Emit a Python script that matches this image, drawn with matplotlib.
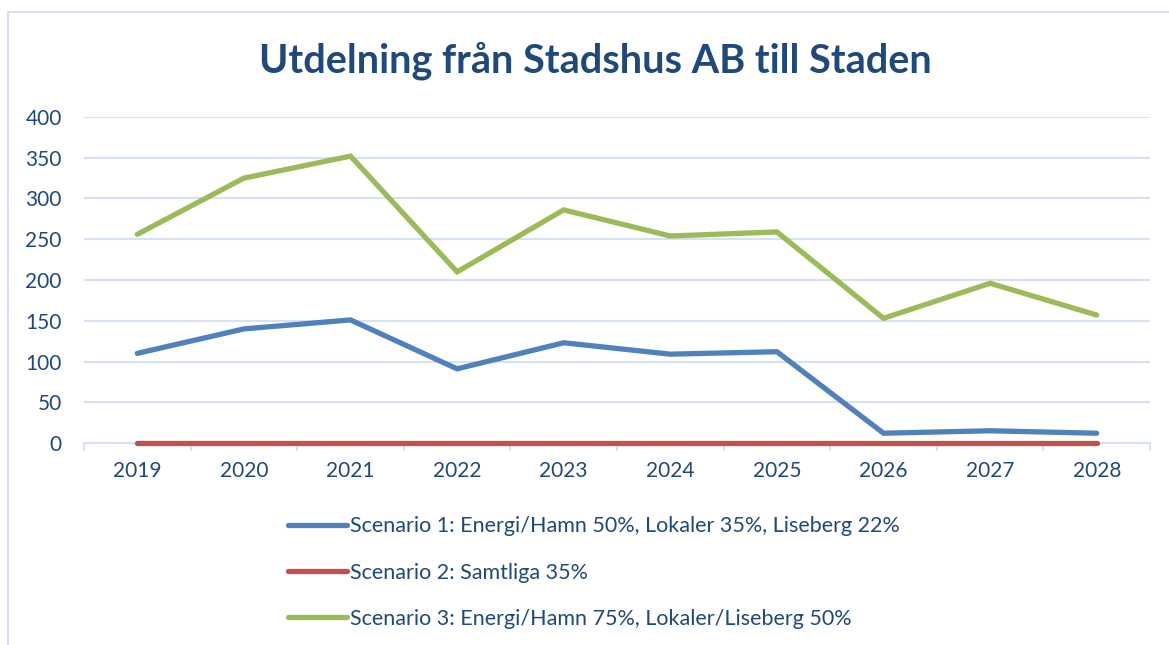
import matplotlib
matplotlib.use("Agg")
import matplotlib.pyplot as plt
from matplotlib.lines import Line2D

years = ["2019", "2020", "2021", "2022", "2023", "2024", "2025", "2026", "2027", "2028"]
scenario1 = [110, 140, 151, 91, 123, 109, 112, 12, 15, 12]
scenario2 = [0, 0, 0, 0, 0, 0, 0, 0, 0, 0]
scenario3 = [256, 325, 352, 210, 286, 254, 259, 153, 196, 157]
labels = [
    "Scenario 1: Energi/Hamn 50%, Lokaler 35%, Liseberg 22%",
    "Scenario 2: Samtliga 35%",
    "Scenario 3: Energi/Hamn 75%, Lokaler/Liseberg 50%",
]
colors = ["#4F81BD", "#C0504D", "#9BBB59"]
text_col = "#1F497D"
grid_col = "#D6E2F2"

plt.rcParams["font.family"] = ["Lato", "DejaVu Sans"]

fig = plt.figure(figsize=(11.69, 6.45), dpi=100)
ax = fig.add_axes([84 / 1169, 1 - 443 / 645, (1150 - 84) / 1169, (443 - 117) / 645])

x = range(len(years))
for vals, c, lab in zip([scenario1, scenario2, scenario3], colors, labels):
    ax.plot(x, vals, color=c, lw=3.8, solid_capstyle="round", solid_joinstyle="miter",
            label=lab, clip_on=False)

ax.set_xlim(-0.5, len(years) - 0.5)
ax.set_ylim(0, 400)
ax.set_yticks(range(0, 401, 50))
ax.grid(axis="y", color=grid_col, lw=1.5)
ax.set_axisbelow(True)
for s in ["top", "right", "left"]:
    ax.spines[s].set_visible(False)
ax.spines["bottom"].set_color(grid_col)
ax.spines["bottom"].set_linewidth(1.5)
ax.spines["bottom"].set_zorder(0)

ax.set_xticks([i - 0.5 for i in range(len(years) + 1)])
ax.set_xticklabels([])
ax.set_xticks(list(x), minor=True)
ax.set_xticklabels(years, minor=True)
ax.tick_params(axis="x", which="major", length=6, width=1.5, color=grid_col, direction="out")
ax.tick_params(axis="x", which="minor", length=0, pad=13, labelsize=15, labelcolor=text_col)
ax.tick_params(axis="y", length=0, pad=16, labelsize=15, labelcolor=text_col)

fig.text(595 / 1169, 1 - 61 / 645, "Utdelning från Stadshus AB till Staden", ha="center", va="center",
         fontsize=28.5, fontweight="bold", color=text_col)

leg = fig.legend(loc="upper left", bbox_to_anchor=(269 / 1169, 1 - 497 / 645), frameon=False,
                 fontsize=15.5, handlelength=2.7, handletextpad=0.15, labelspacing=1.22)
for t in leg.get_texts():
    t.set_color(text_col)

fig.add_artist(Line2D([8 / 1169, 1], [1 - 12 / 645, 1 - 12 / 645], color=grid_col, lw=1.5))
fig.add_artist(Line2D([8 / 1169, 8 / 1169], [0, 1 - 12 / 645], color=grid_col, lw=1.5))

fig.savefig("out.png", dpi=100)
